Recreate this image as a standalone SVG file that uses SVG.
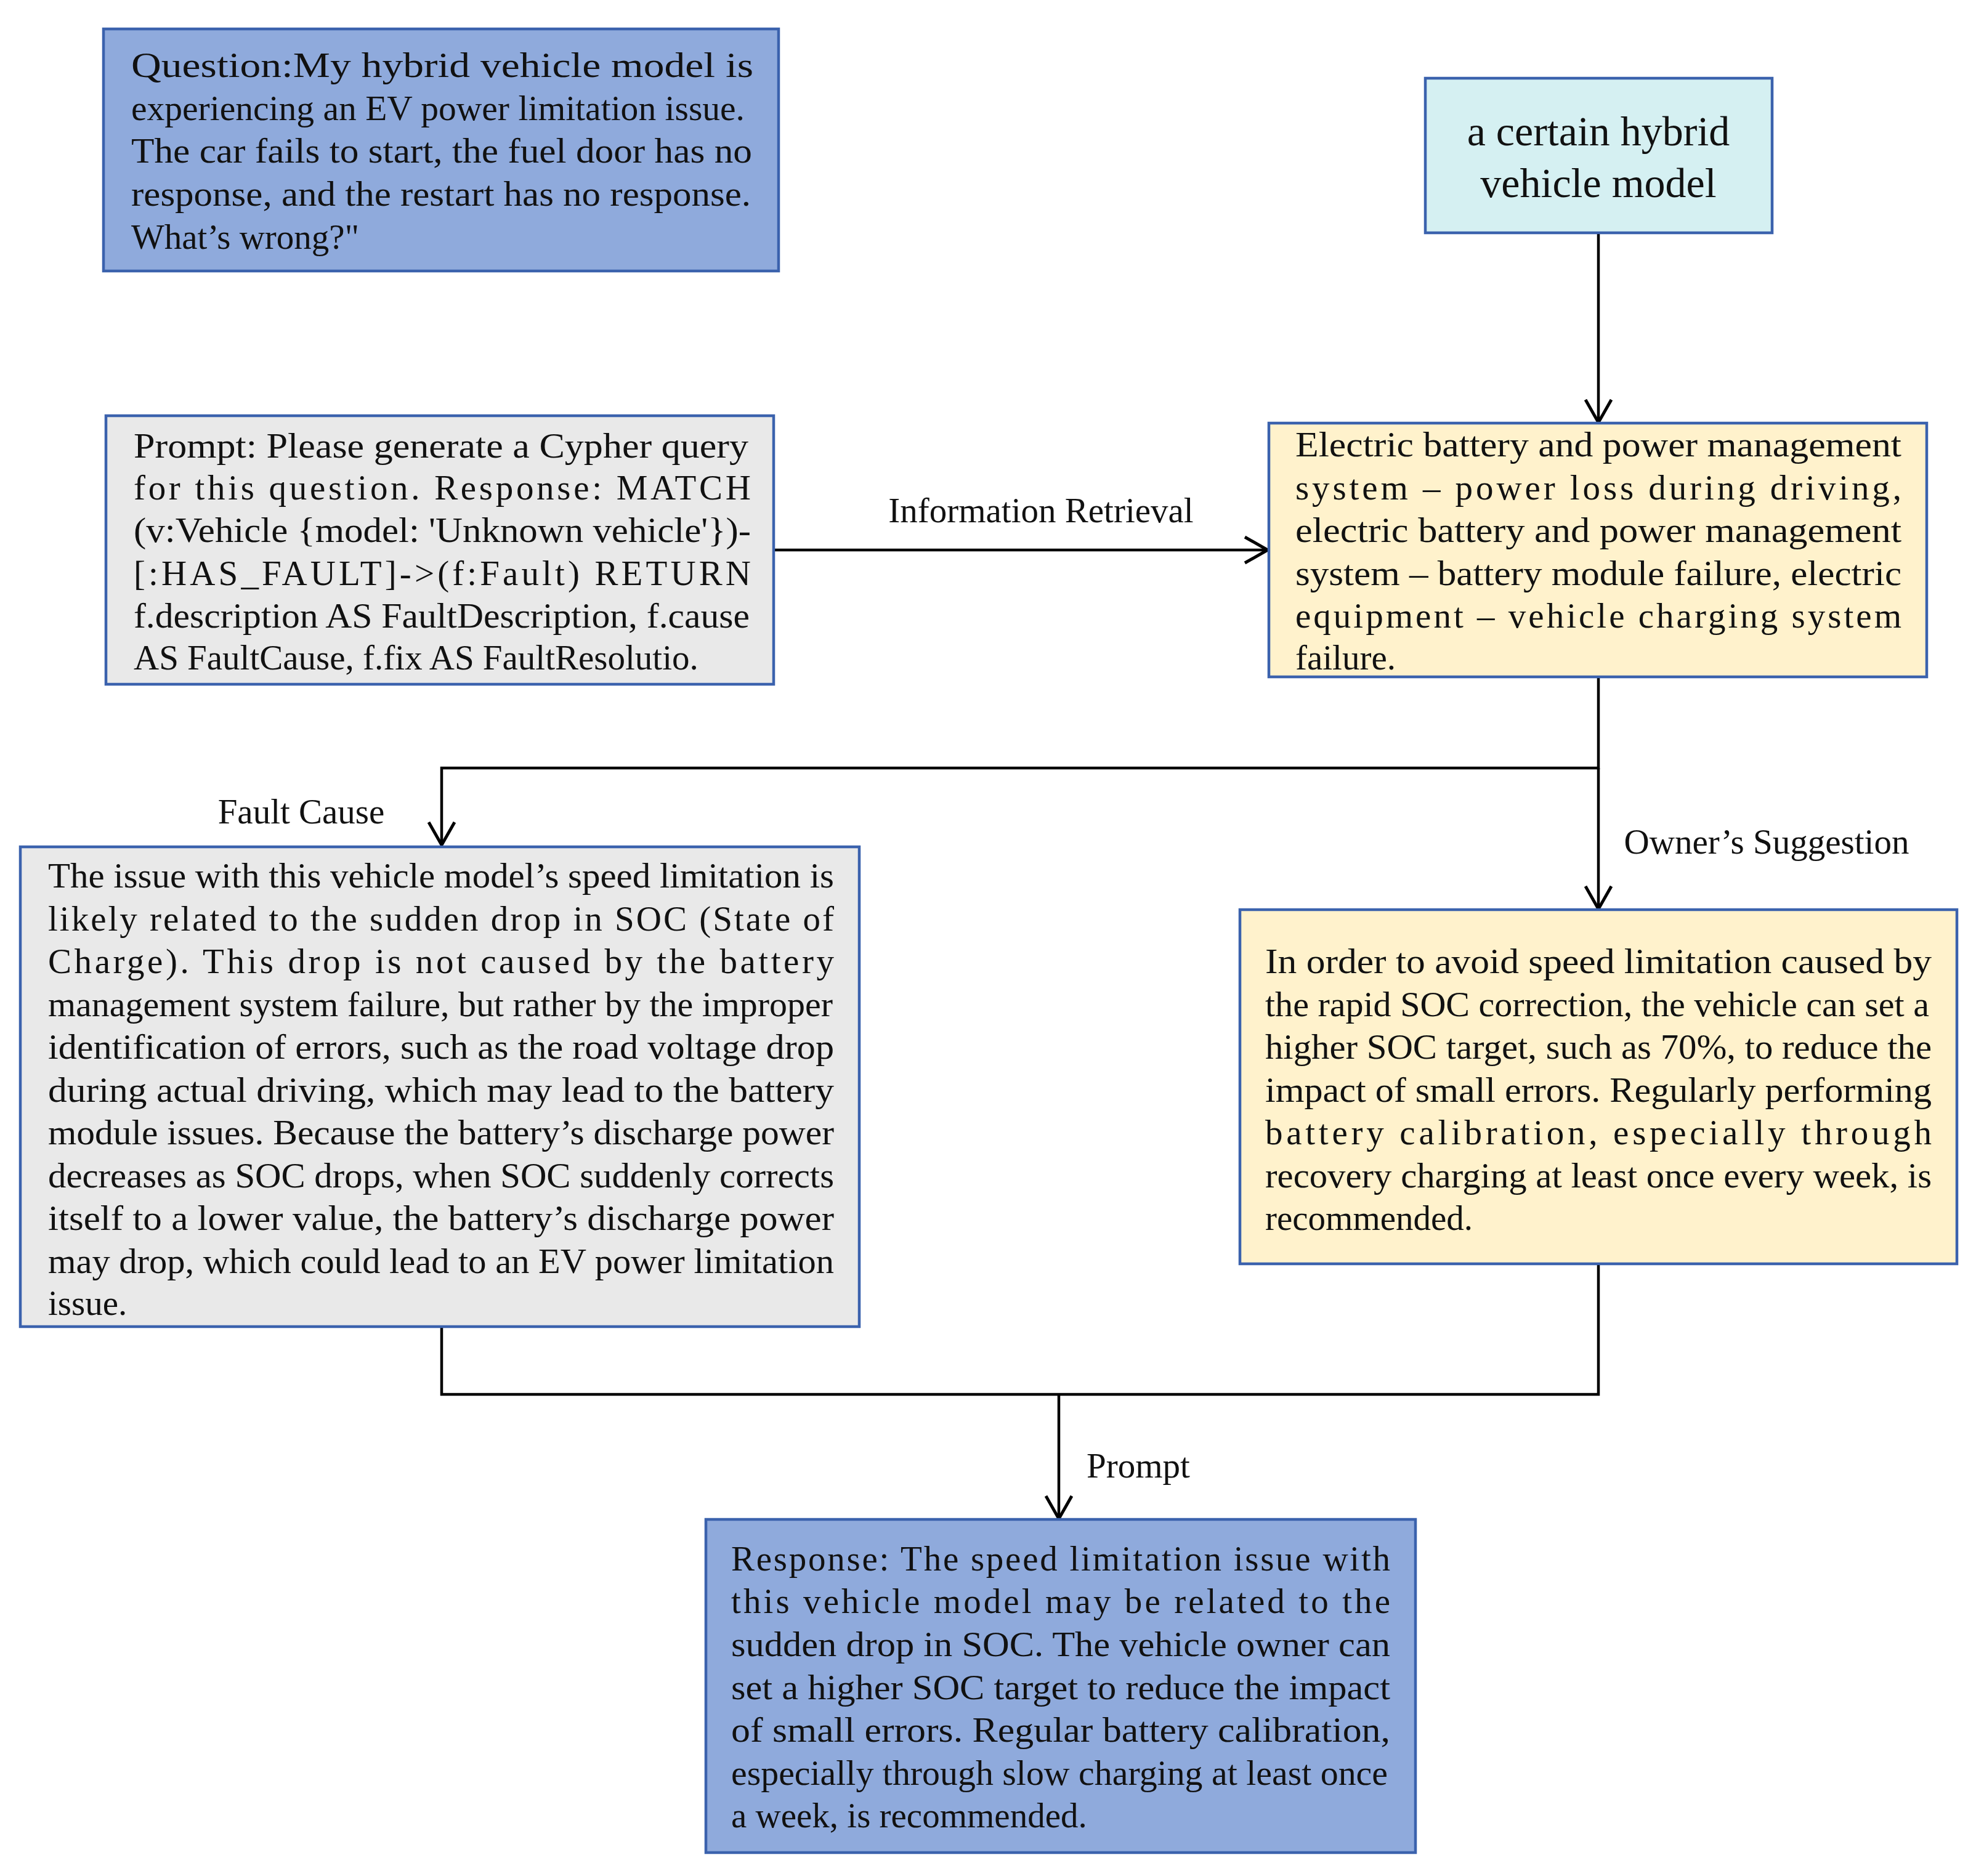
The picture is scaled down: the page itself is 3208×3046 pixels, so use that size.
<svg xmlns="http://www.w3.org/2000/svg" width="3208" height="3046" viewBox="0 0 3208 3046">
<style>
.box{stroke:#3b62ad;stroke-width:4.5}
.blue{fill:#8faadc}
.gray{fill:#e9e9e9}
.yellow{fill:#fff2cc}
.cyan{fill:#d5f0f2}
text{font-family:"Liberation Serif","Times New Roman",serif;fill:#111;font-size:57px}
.lbl{font-size:57px}
.big{font-size:68px}
.conn{stroke:#000;stroke-width:4.5;fill:none}
</style>
<defs>
<marker id="arr" markerUnits="userSpaceOnUse" markerWidth="60" markerHeight="60" viewBox="-45 -30 50 60" refX="0" refY="0" orient="auto">
<path d="M-37,-21 L0,0 L-37,21" fill="none" stroke="#000" stroke-width="5"/>
</marker>
</defs>
<rect width="3208" height="3046" fill="#ffffff"/>

<g id="connectors">
<line class="conn" x1="2595" y1="378" x2="2595" y2="686" marker-end="url(#arr)"/>
<line class="conn" x1="1256" y1="893" x2="2058" y2="893" marker-end="url(#arr)"/>
<polyline class="conn" points="2595,1099 2595,1247 717,1247 717,1372" marker-end="url(#arr)"/>
<line class="conn" x1="2595" y1="1247" x2="2595" y2="1476" marker-end="url(#arr)"/>
<polyline class="conn" points="717,2154 717,2264 2595,2264 2595,2052"/>
<line class="conn" x1="1719" y1="2264" x2="1719" y2="2466" marker-end="url(#arr)"/>
<text class="lbl" x="1690" y="848" text-anchor="middle">Information Retrieval</text>
<text class="lbl" x="489" y="1337" text-anchor="middle">Fault Cause</text>
<text class="lbl" x="2868" y="1386" text-anchor="middle">Owner’s Suggestion</text>
<text class="lbl" x="1764" y="2399">Prompt</text>
</g>

<g id="question">
<rect class="box blue" x="168" y="47" width="1096" height="393"/>
<text x="213" y="125" textLength="1010" lengthAdjust="spacingAndGlyphs">Question:My hybrid vehicle model is</text>
<text x="213" y="195" textLength="996" lengthAdjust="spacingAndGlyphs">experiencing an EV power limitation issue.</text>
<text x="213" y="264" textLength="1008" lengthAdjust="spacingAndGlyphs">The car fails to start, the fuel door has no</text>
<text x="213" y="334" textLength="1006" lengthAdjust="spacingAndGlyphs">response, and the restart has no response.</text>
<text x="213" y="404">What’s wrong?"</text>
</g>

<g id="vehicle">
<rect class="box cyan" x="2314" y="127" width="563" height="251"/>
<text class="big" x="2595" y="236" text-anchor="middle">a certain hybrid</text>
<text class="big" x="2595" y="320" text-anchor="middle">vehicle model</text>
</g>

<g id="prompt">
<rect class="box gray" x="172" y="675" width="1084" height="436"/>
<text x="217" y="743" textLength="998" lengthAdjust="spacingAndGlyphs">Prompt: Please generate a Cypher query</text>
<text x="217" y="811" textLength="1002" lengthAdjust="spacing">for this question. Response: MATCH</text>
<text x="217" y="880" textLength="1002" lengthAdjust="spacingAndGlyphs">(v:Vehicle {model: 'Unknown vehicle'})-</text>
<text x="217" y="950" textLength="1002" lengthAdjust="spacing">[:HAS_FAULT]-&gt;(f:Fault) RETURN</text>
<text x="217" y="1019" textLength="1000" lengthAdjust="spacingAndGlyphs">f.description AS FaultDescription, f.cause</text>
<text x="217" y="1087">AS FaultCause, f.fix AS FaultResolutio.</text>
</g>

<g id="faults">
<rect class="box yellow" x="2060" y="687" width="1068" height="412"/>
<text x="2103" y="741" textLength="984" lengthAdjust="spacingAndGlyphs">Electric battery and power management</text>
<text x="2103" y="811" textLength="984" lengthAdjust="spacing">system – power loss during driving,</text>
<text x="2103" y="880" textLength="984" lengthAdjust="spacingAndGlyphs">electric battery and power management</text>
<text x="2103" y="950" textLength="984" lengthAdjust="spacingAndGlyphs">system – battery module failure, electric</text>
<text x="2103" y="1019" textLength="984" lengthAdjust="spacing">equipment – vehicle charging system</text>
<text x="2103" y="1087">failure.</text>
</g>

<g id="fault-cause">
<rect class="box gray" x="33" y="1375" width="1362" height="779"/>
<text x="78" y="1441" textLength="1276" lengthAdjust="spacingAndGlyphs">The issue with this vehicle model’s speed limitation is</text>
<text x="78" y="1511" textLength="1276" lengthAdjust="spacing">likely related to the sudden drop in SOC (State of</text>
<text x="78" y="1580" textLength="1276" lengthAdjust="spacing">Charge). This drop is not caused by the battery</text>
<text x="78" y="1650" textLength="1274" lengthAdjust="spacingAndGlyphs">management system failure, but rather by the improper</text>
<text x="78" y="1719" textLength="1276" lengthAdjust="spacingAndGlyphs">identification of errors, such as the road voltage drop</text>
<text x="78" y="1789" textLength="1276" lengthAdjust="spacingAndGlyphs">during actual driving, which may lead to the battery</text>
<text x="78" y="1858" textLength="1276" lengthAdjust="spacingAndGlyphs">module issues. Because the battery’s discharge power</text>
<text x="78" y="1928" textLength="1276" lengthAdjust="spacingAndGlyphs">decreases as SOC drops, when SOC suddenly corrects</text>
<text x="78" y="1997" textLength="1276" lengthAdjust="spacingAndGlyphs">itself to a lower value, the battery’s discharge power</text>
<text x="78" y="2067" textLength="1276" lengthAdjust="spacingAndGlyphs">may drop, which could lead to an EV power limitation</text>
<text x="78" y="2135">issue.</text>
</g>

<g id="owner-suggestion">
<rect class="box yellow" x="2013" y="1477" width="1164" height="575"/>
<text x="2054" y="1580" textLength="1082" lengthAdjust="spacingAndGlyphs">In order to avoid speed limitation caused by</text>
<text x="2054" y="1650" textLength="1078" lengthAdjust="spacingAndGlyphs">the rapid SOC correction, the vehicle can set a</text>
<text x="2054" y="1719" textLength="1082" lengthAdjust="spacingAndGlyphs">higher SOC target, such as 70%, to reduce the</text>
<text x="2054" y="1789" textLength="1082" lengthAdjust="spacingAndGlyphs">impact of small errors. Regularly performing</text>
<text x="2054" y="1858" textLength="1082" lengthAdjust="spacing">battery calibration, especially through</text>
<text x="2054" y="1928" textLength="1082" lengthAdjust="spacingAndGlyphs">recovery charging at least once every week, is</text>
<text x="2054" y="1997">recommended.</text>
</g>

<g id="response">
<rect class="box blue" x="1146" y="2467" width="1152" height="541"/>
<text x="1187" y="2550" textLength="1070" lengthAdjust="spacing">Response: The speed limitation issue with</text>
<text x="1187" y="2619" textLength="1070" lengthAdjust="spacing">this vehicle model may be related to the</text>
<text x="1187" y="2689" textLength="1070" lengthAdjust="spacingAndGlyphs">sudden drop in SOC. The vehicle owner can</text>
<text x="1187" y="2759" textLength="1070" lengthAdjust="spacingAndGlyphs">set a higher SOC target to reduce the impact</text>
<text x="1187" y="2828" textLength="1070" lengthAdjust="spacingAndGlyphs">of small errors. Regular battery calibration,</text>
<text x="1187" y="2898" textLength="1066" lengthAdjust="spacingAndGlyphs">especially through slow charging at least once</text>
<text x="1187" y="2967">a week, is recommended.</text>
</g>
</svg>
